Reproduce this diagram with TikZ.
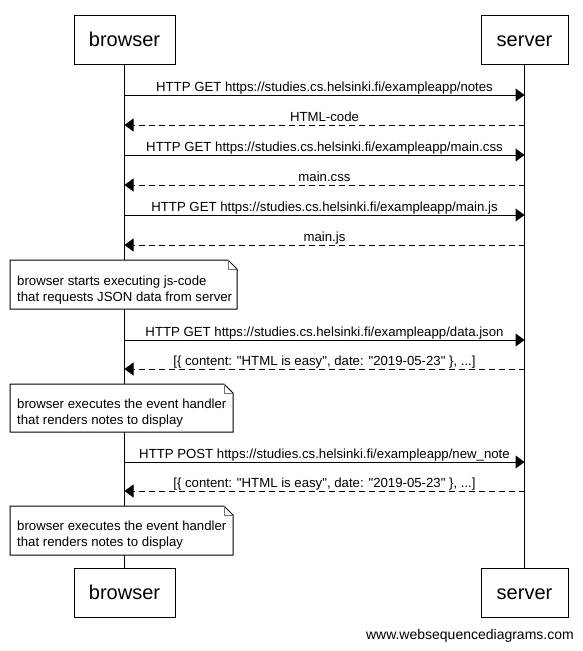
\documentclass[tikz,border=0pt]{standalone}
\usepackage{fontspec}
\setmainfont[Ligatures=NoCommon]{Liberation Sans}
% same face without the TeX input mapping, for straight double quotes
\newfontfamily\plainface{Liberation Sans}
\usetikzlibrary{arrows.meta}

\newcommand{\sq}{{\plainface\symbol{34}}}

\tikzset{
  actor/.style={draw, line width=1pt, fill=white, minimum width=#1,
    minimum height=49pt, inner sep=0pt, text height=16.4pt, text depth=2.4pt,
    font=\fontsize{20}{24}\selectfont},
  lifeline/.style={line width=1pt},
  msg/.style={line width=1pt, -{Triangle[length=9pt,width=13pt]}},
  reply/.style={msg, dash pattern=on 6pt off 4pt},
  msglabel/.style={font=\fontsize{13.2}{16}\selectfont, anchor=base,
    inner sep=0pt, yshift=4pt},
  notebox/.style={draw, line width=1pt, fill=white},
  notefold/.style={draw=black!55, line width=0.8pt},
  notetext/.style={font=\fontsize{13.2}{16}\selectfont, anchor=base west,
    inner sep=0pt},
  credit/.style={font=\fontsize{14}{16}\selectfont, anchor=base east,
    inner sep=0pt}
}

\begin{document}
\begin{tikzpicture}[x=1pt, y=-1pt]
\useasboundingbox[fill=white] (0,0) rectangle (582,651);

% participants, top and bottom
\node[actor=101pt] (btop) at (124.5,39.5) {browser};
\node[actor=87pt]  (stop) at (524.5,39.5) {server};
\node[actor=101pt] (bbot) at (124.5,592.5) {browser};
\node[actor=87pt]  (sbot) at (524.5,592.5) {server};

% lifelines
\draw[lifeline] (btop.south) -- (bbot.north);
\draw[lifeline] (stop.south) -- (sbot.north);

% message end points on the lifelines
\foreach \i/\y in {1/95,2/125,3/155,4/185,5/215,6/245,7/340,8/369,9/462,10/491}{
  \coordinate (b\i) at (124.5,\y);
  \coordinate (s\i) at (524.5,\y);
}

% requests and responses
\draw[msg] (b1) -- (s1) node[msglabel, midway] (m1)
  {HTTP GET https://studies.cs.helsinki.fi/exampleapp/notes};
\draw[reply] (s2) -- (b2) node[msglabel, midway] (m2) {HTML-code};
\draw[msg] (b3) -- (s3) node[msglabel, midway] (m3)
  {HTTP GET https://studies.cs.helsinki.fi/exampleapp/main.css};
\draw[reply] (s4) -- (b4) node[msglabel, midway] (m4) {main.css};
\draw[msg] (b5) -- (s5) node[msglabel, midway] (m5)
  {HTTP GET https://studies.cs.helsinki.fi/exampleapp/main.js};
\draw[reply] (s6) -- (b6) node[msglabel, midway] (m6) {main.js};
\draw[msg] (b7) -- (s7) node[msglabel, midway] (m7)
  {HTTP GET https://studies.cs.helsinki.fi/exampleapp/data.json};
\draw[reply] (s8) -- (b8) node[msglabel, midway] (m8)
  {[\{ content: \sq HTML is easy\sq, date: \sq 2019-05-23\sq\ \}, ...]};
\draw[msg] (b9) -- (s9) node[msglabel, midway] (m9)
  {HTTP POST https://studies.cs.helsinki.fi/exampleapp/new\_note};
\draw[reply] (s10) -- (b10) node[msglabel, midway] (m10)
  {[\{ content: \sq HTML is easy\sq, date: \sq 2019-05-23\sq\ \}, ...]};

% notes on the browser lifeline
\draw[notebox] (10,260) -- (228,260) -- (237,269) -- (237,309) -- (10,309) -- cycle;
\draw[notefold] (228,260) -- (228,269) -- (237,269);
\node[notetext] (n1a) at (17,285.5) {browser starts executing js-code};
\node[notetext] (n1b) at (17,301.5) {that requests JSON data from server};

\draw[notebox] (10,384) -- (224,384) -- (233,393) -- (233,432) -- (10,432) -- cycle;
\draw[notefold] (224,384) -- (224,393) -- (233,393);
\node[notetext] (n2a) at (17,408) {browser executes the event handler};
\node[notetext] (n2b) at (17,424) {that renders notes to display};

\draw[notebox] (10,506) -- (224,506) -- (233,515) -- (233,555) -- (10,555) -- cycle;
\draw[notefold] (224,506) -- (224,515) -- (233,515);
\node[notetext] (n3a) at (17,530) {browser executes the event handler};
\node[notetext] (n3b) at (17,546) {that renders notes to display};

\node[credit] (credit) at (574,639) {www.websequencediagrams.com};
\end{tikzpicture}
\end{document}
